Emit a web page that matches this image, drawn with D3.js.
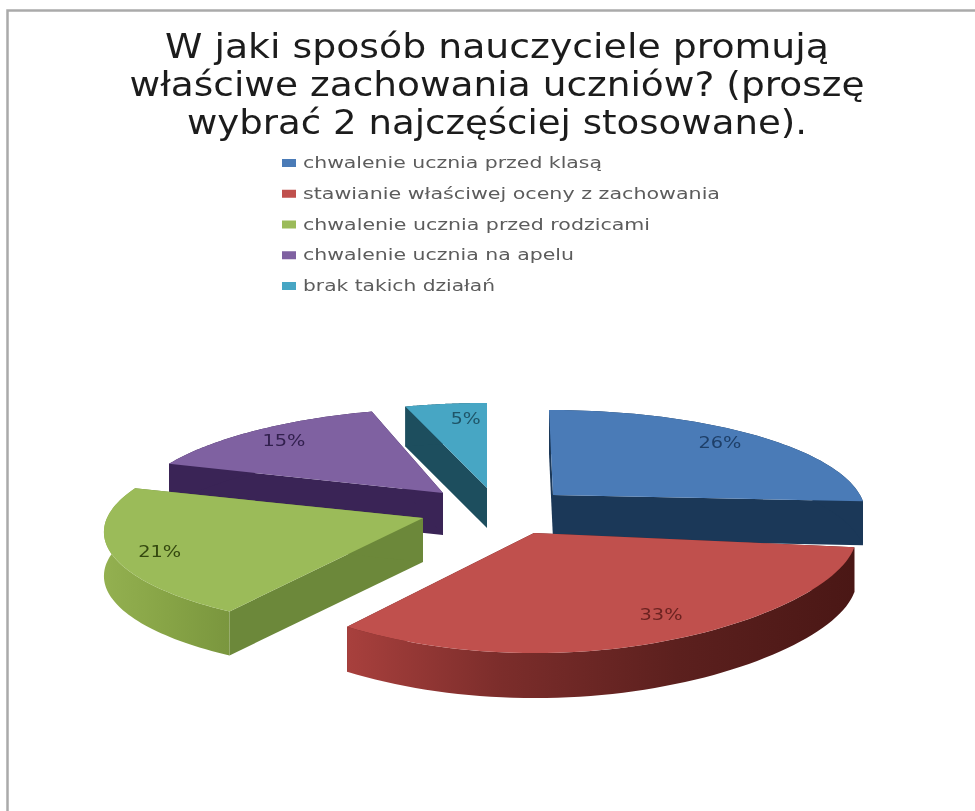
<!DOCTYPE html>
<html><head><meta charset="utf-8">
<script src="https://cdn.jsdelivr.net/npm/d3@7/dist/d3.min.js"></script>
<style>html,body{margin:0;padding:0;background:#fff}svg{display:block;filter:blur(0.6px)}</style>
</head><body><svg id="c" width="975" height="811"></svg>
<script>
const titleLines = ["W jaki sposób nauczyciele promują","właściwe zachowania uczniów? (proszę","wybrać 2 najczęściej stosowane)."];
const categories = ["chwalenie ucznia przed klasą","stawianie właściwej oceny z zachowania","chwalenie ucznia przed rodzicami","chwalenie ucznia na apelu","brak takich działań"];
const values = [26,33,21,15,5];
const topColors = ["#4a7bb7","#c0504d","#9bbb59","#7f61a1","#47a6c4"];
const edgeColors = ["#1b3858","#5a1f1d","#6c883a","#3a2456","#1d4e5e"];
const labelColors = ["#1e3f68","#6b2220","#34480f","#32204e","#1f5568"];

// layout (per slice): apex on screen, radial scale, shear, tilt, perspective, label nudges
const apexX=[553,534,423,443,487], apexY=[495,533,518,493,488];
const widthR=[307,322,316,307,307], shearX=[-4,17,6,11,0], tiltY=[0,8,0,0,0];
const perspY=[0.17,0.17,0.12,0.17,0.17], perspX=[0.17,0,0.12,0.17,0.17];
const wallDepth=[44,45,44,42,40];
const labelPos=[[-2,0],[17,-6],[-3,5],[0,2],[14,3]];
const RY=99.5;

const svg=d3.select("#c");
const defs=svg.append("defs");
const g1=defs.append("linearGradient").attr("id","redWall");
[[0,"#a8403d"],[0.3,"#7c2d2b"],[0.65,"#5c201e"],[1,"#4a1715"]].forEach(s=>g1.append("stop").attr("offset",s[0]).attr("stop-color",s[1]));
const g2=defs.append("linearGradient").attr("id","greenWall");
[[0,"#93b050"],[0.5,"#87a446"],[1,"#7a963e"]].forEach(s=>g2.append("stop").attr("offset",s[0]).attr("stop-color",s[1]));

// frame
svg.append("path").attr("d","M7.5 811V10.5H975").attr("fill","none").attr("stroke","#aaa").attr("stroke-width",2.5);

// title
const titleWidths=[664,735,620], titleBase=[58,96,134];
svg.selectAll("text.t").data(titleLines).join("text").attr("class","t")
 .attr("x",497).attr("y",(d,i)=>titleBase[i]).attr("text-anchor","middle")
 .attr("font-family","DejaVu Sans").attr("font-size",33).attr("fill","#1c1c1c")
 .attr("textLength",(d,i)=>titleWidths[i]).attr("lengthAdjust","spacingAndGlyphs").text(d=>d);

// legend
const legY=d3.scalePoint().domain(categories).range([163,286]);
const legW=[299,417,347,271,192];
const leg=svg.selectAll("g.l").data(categories).join("g").attr("class","l").attr("transform",d=>`translate(282,${legY(d)})`);
leg.append("rect").attr("y",-4).attr("width",14).attr("height",8).attr("fill",(d,i)=>topColors[i]);
leg.append("text").attr("x",21).attr("y",5).attr("font-family","DejaVu Sans").attr("font-size",15).attr("fill","#5c5c5c")
 .attr("textLength",(d,i)=>legW[i]).attr("lengthAdjust","spacingAndGlyphs").text(d=>d);

// pie
const arcs=d3.pie().sort(null)(values);
function proj(i,th,r,drop){
  const c=Math.cos(th), sn=Math.sin(th);
  const sx=1/(1+perspX[i]*c*r), sy=1/(1+perspY[i]*c*r);
  return [apexX[i]+r*(widthR[i]*sn*sx+shearX[i]*c),
          apexY[i]+r*(-RY*c*sy+tiltY[i]*sn)+(drop||0)];
}
const line=d3.line();
function rim(i,a,drop){return d3.range(0,61).map(k=>proj(i,a.startAngle+(a.endAngle-a.startAngle)*k/60,1,drop));}
const order=[4,3,0,2,1];
order.forEach(i=>{
  const a=arcs[i], g=svg.append("g"), d=wallDepth[i];
  const r0=rim(i,a,0), r1=rim(i,a,d).reverse();
  const A=proj(i,0,0,0), Ad=proj(i,0,0,d);
  [[r0[0],proj(i,a.startAngle,1,d)],[r0[60],proj(i,a.endAngle,1,d)]].forEach(w=>{
    g.append("path").attr("d",line([A,w[0],w[1],Ad])+"Z").attr("fill",edgeColors[i]);
  });
  if(i!=0&&i!=3&&i!=4){ g.append("path").attr("d",line(r0.concat(r1))+"Z").attr("fill",i==1?"url(#redWall)":"url(#greenWall)"); }
  else { g.append("path").attr("d",line(r0.concat(r1))+"Z").attr("fill",edgeColors[i]); }
  g.append("path").attr("d",line([A].concat(r0))+"Z").attr("fill",topColors[i]);
});
// labels
const labelW=d=>d>=10?43:30;
svg.selectAll("text.p").data(arcs).join("text").attr("class","p")
 .attr("x",(a,i)=>proj(i,(a.startAngle+a.endAngle)/2,0.84)[0]+labelPos[i][0])
 .attr("y",(a,i)=>proj(i,(a.startAngle+a.endAngle)/2,0.84)[1]+labelPos[i][1]+5)
 .attr("text-anchor","middle").attr("font-family","DejaVu Sans").attr("font-size",15)
 .attr("textLength",a=>labelW(a.value)).attr("lengthAdjust","spacingAndGlyphs")
 .attr("fill",(a,i)=>labelColors[i]).text(a=>a.value+"%");
</script></body></html>
